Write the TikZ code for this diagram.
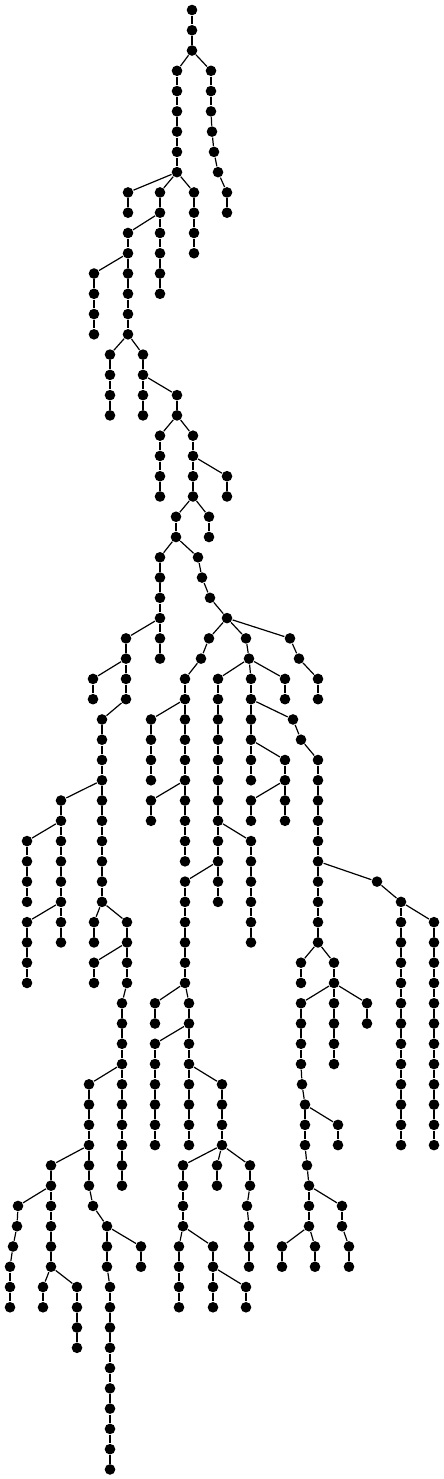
\documentclass[tikz,border=0pt]{standalone}
\usepackage{tikz}

\begin{document}
\begin{tikzpicture}[x=0.5pt,y=0.5pt,line width=0.6pt,
    leaf/.style={circle,fill=black,inner sep=0pt,minimum size=5.3pt}]
    \useasboundingbox (0,0) rectangle (444,-1479);
    % 根节点
    \node[leaf] (v0-192) at (192,-10) {};
    % 每条链: 起始层/父节点x/各层x
    \foreach \l/\p/\xs in {
        0/192/{192,192},
        2/192/{177,177,177,177,177,177},
        2/192/{211,211,211,212,214,218,227,227},
        8/177/{128,128}, 8/177/{160,160}, 8/177/{194,194,194,194},
        10/160/{128,128}, 10/160/{160,160,160,160},
        12/128/{94,94,94,94}, 12/128/{128,128,128,128},
        16/128/{110,110,110,110}, 16/128/{143,143},
        18/143/{143,143}, 18/143/{177,177},
        20/177/{160,160,160,160}, 20/177/{193,193},
        22/193/{193,193}, 22/193/{227,227},
        24/193/{176,176}, 24/193/{209,209},
        26/176/{160,160,160,160}, 26/176/{198,202,210,227},
        30/160/{126,126}, 30/160/{160,160},
        32/126/{93,93}, 32/126/{126,126,102,102,102,102},
        38/102/{61,61}, 38/102/{102,102,102,102,102,102},
        40/61/{27,27,27,27}, 40/61/{61,61,61,61},
        44/61/{27,27,27,27}, 44/61/{61,61},
        44/102/{94,94}, 44/102/{127,127},
        46/127/{94,94}, 46/127/{127,127,122,122,122,122},
        52/122/{89,89,89,89}, 52/122/{122,122,122,122,122,122},
        56/89/{51,51}, 56/89/{89,89,93,107},
        58/51/{18,17,13,10,10,10}, 58/51/{51,51,51,51},
        62/51/{43,43}, 62/51/{77,77,77,77},
        60/107/{107,107,110,110,110,110,110,110,110,110,110,110},
        60/107/{141,141},
        30/227/{209,201,185,185}, 30/227/{246,249}, 30/227/{290,299,318,318},
        34/185/{151,151,151,151}, 34/185/{185,185,185,185},
        38/185/{151,151}, 38/185/{185,185,185,185},
        32/249/{218,218,218,218,218,218,218,218},
        32/249/{251,251}, 32/249/{285,285},
        34/251/{251,251}, 34/251/{293,301,318,318,318,318,318,318},
        36/251/{251,251}, 36/251/{285,285},
        38/285/{251,251}, 38/285/{285,285},
        40/218/{218,218}, 40/218/{251,251,251,251,251,251},
        42/218/{185,185,185,185,185,185}, 42/218/{218,218},
        48/185/{155,155}, 48/185/{189,189},
        50/189/{155,155,155,155,155,155}, 50/189/{189,189},
        52/189/{189,189,189,189}, 52/189/{222,222,222,222},
        56/222/{183,183,183,183}, 56/222/{217,217},
        56/222/{250,250,247,249,249,249},
        60/183/{179,179,179,179}, 60/183/{213,213},
        62/213/{213,213}, 62/213/{246,246},
        42/318/{318,318,318,318}, 42/318/{377,401},
        44/401/{401,401,401,401,401,401,401,401,401,401,401,401},
        44/401/{434,434,434,434,434,434,434,434,434,434,434,434},
        46/318/{301,301}, 46/318/{334,334},
        48/334/{301,301,301,301,302,305}, 48/334/{334,334,334,334},
        48/334/{367,367},
        54/305/{305,305,307,309}, 54/305/{338,338},
        58/309/{309,309}, 58/309/{342,342,349,349},
        60/309/{282,282}, 60/309/{315,315}} {
        \xdef\q{\p}
        \foreach \c [count=\k] in \xs {
            \pgfmathtruncatemacro\a{\l+\k-1}
            \pgfmathtruncatemacro\b{\l+\k}
            \node[leaf] (v\b-\c) at (\c,-10-20.27*\b) {};
            \draw (v\a-\q) -- (v\b-\c);
            \xdef\q{\c}
        }
    }
\end{tikzpicture}
\end{document}
